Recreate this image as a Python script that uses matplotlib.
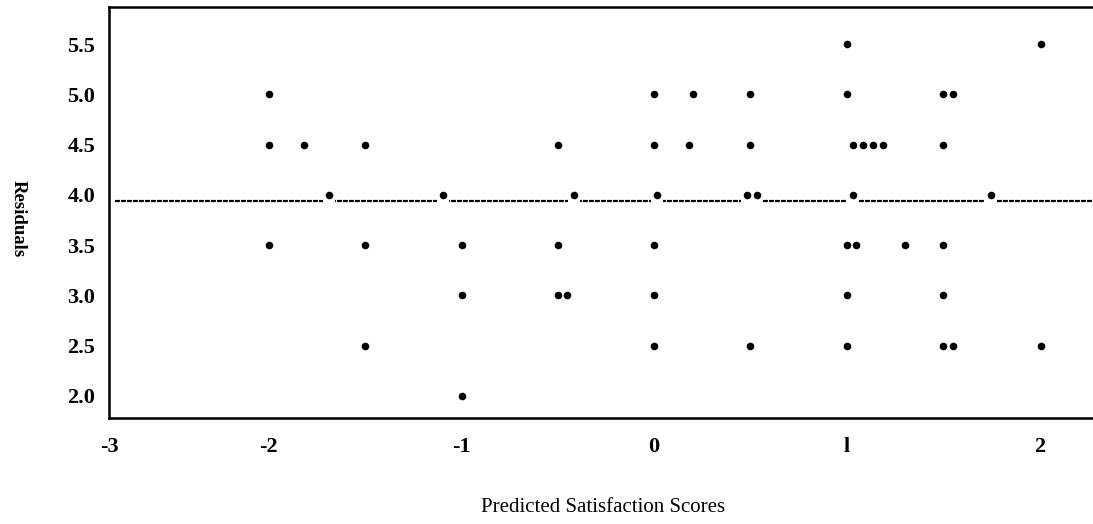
import matplotlib
matplotlib.use("Agg")
import matplotlib.pyplot as plt

# Scattered residual points (predicted score, residual)
pred = [-2.0, -2.0, -2.0, -1.82,
        -1.5, -1.5, -1.5,
        -1.0, -1.0, -1.0,
        -0.5, -0.5, -0.5, -0.45,
        0.0, 0.0, 0.0, 0.0, 0.0,
        0.2, 0.18,
        0.5, 0.5, 0.5,
        1.0, 1.0, 1.0, 1.0, 1.0, 1.05,
        1.03, 1.085, 1.135, 1.19,
        1.3,
        1.5, 1.5, 1.5, 1.5, 1.5, 1.55, 1.55,
        2.01, 2.01]
resid = [5.0, 4.5, 3.5, 4.5,
         4.5, 3.5, 2.5,
         3.5, 3.0, 2.0,
         4.5, 3.5, 3.0, 3.0,
         5.0, 4.5, 3.5, 3.0, 2.5,
         5.0, 4.5,
         5.0, 4.5, 2.5,
         5.5, 5.0, 3.5, 3.0, 2.5, 3.5,
         4.5, 4.5, 4.5, 4.5,
         3.5,
         5.0, 4.5, 3.5, 3.0, 2.5, 5.0, 2.5,
         5.5, 2.5]

# Points lying on the reference line
line_pred = [-1.69, -1.095, -0.415, 0.016, 0.483, 0.535, 1.033, 1.749]
line_resid = [4.0, 4.0, 4.0, 4.0, 4.0, 4.0, 4.0, 4.0]
ref_level = 3.94

xtick_vals = [-2, -1, 0, 1, 2]
xtick_labels = ["-2", "-1", "0", "l", "2"]
ytick_vals = [2.0, 2.5, 3.0, 3.5, 4.0, 4.5, 5.0, 5.5]

xmin, xmax = -2.83, 2.278
ymin, ymax = 1.78, 5.87

fig = plt.figure(figsize=(10.93, 5.24), dpi=100)
ax = fig.add_axes([109 / 1093, 1 - 418 / 524, 1 - 109 / 1093, (418 - 7) / 524])
ax.set_xlim(xmin, xmax)
ax.set_ylim(ymin, ymax)

serif = ["Liberation Serif", "DejaVu Serif"]

# dashed reference line
ax.plot([xmin + 0.03, xmax], [ref_level, ref_level], color="black", lw=1.6,
        ls=(0, (2.2, 0.5)), zorder=2)
# white gaps where line points sit
ax.scatter(line_pred, [ref_level] * len(line_pred), marker="s", s=70,
           color="white", zorder=3, linewidths=0)

ax.scatter(pred, resid, s=30, color="black", zorder=4, linewidths=0)
ax.scatter(line_pred, line_resid, s=30, color="black", zorder=4, linewidths=0)

for side in ["left", "top", "bottom"]:
    ax.spines[side].set_linewidth(1.8)
ax.spines["right"].set_visible(False)

ax.set_xticks([xmin] + xtick_vals)
ax.set_xticklabels(["-3"] + xtick_labels)
ax.set_yticks(ytick_vals)
ax.set_yticklabels([f"{v:.1f}" for v in ytick_vals])
ax.tick_params(axis="x", length=0, pad=14)
ax.tick_params(axis="y", length=0, pad=10)
for lab in ax.get_xticklabels() + ax.get_yticklabels():
    lab.set_fontfamily(serif)
    lab.set_fontweight("bold")
    lab.set_fontsize(16)

fig.text(603 / 1093, 1 - 507 / 524, "Predicted Satisfaction Scores",
         ha="center", va="center", fontsize=15, family=serif)
fig.text(18 / 1093, 1 - 219 / 524, "Residuals", rotation=-90,
         ha="center", va="center", fontsize=13.5, fontweight="bold", family=serif)

fig.savefig("out.png", dpi=100)
